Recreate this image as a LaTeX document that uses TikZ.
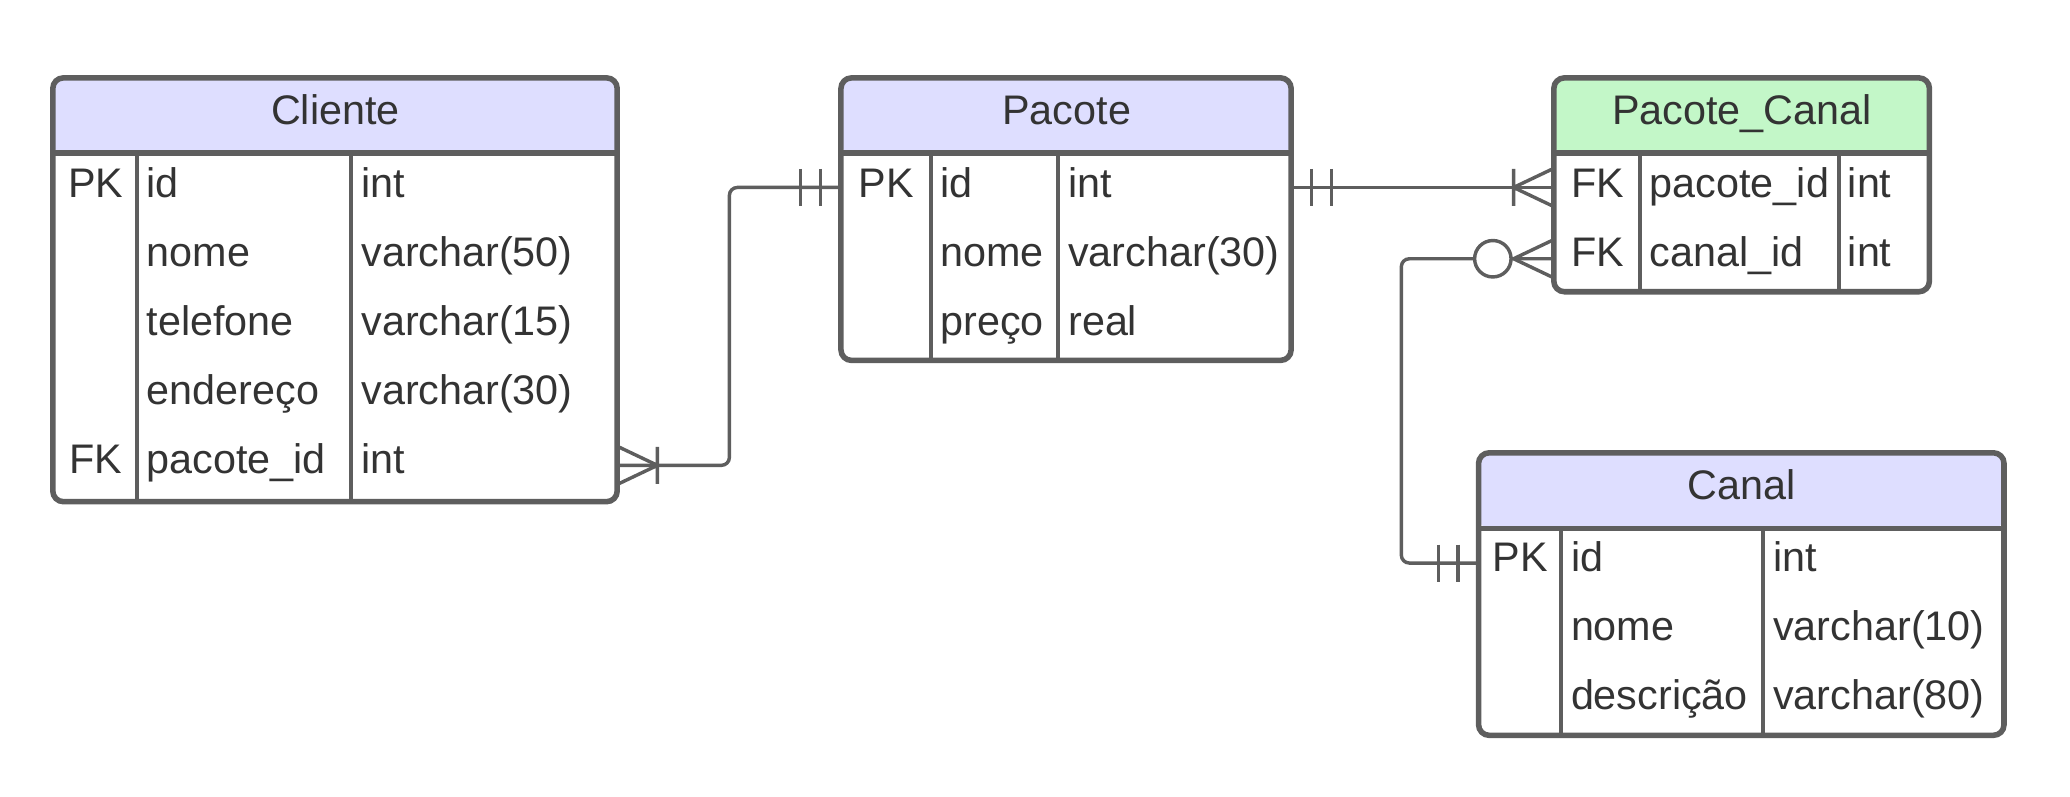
\documentclass[tikz,border=0pt]{standalone}
\usepackage{fontspec}
\setmainfont{Liberation Sans}
\definecolor{lc}{HTML}{5E5E5E}
\definecolor{tc}{HTML}{333333}
\definecolor{hblue}{HTML}{DEDEFF}
\definecolor{hgreen}{HTML}{C3F7C8}
\tikzset{
  pics/onemark/.style={code={\draw[ermark] (15.5,-14) -- (15.5,14) (30.5,-14) -- (30.5,14);}},
  pics/manymark/.style={code={\draw[ermark] (0,-14.5) -- (30.5,0) -- (0,14.5) (30.5,-14) -- (30.5,14);}},
  pics/zeromanymark/.style={code={\draw[ermark] (0,-14.5) -- (30.5,0) -- (0,14.5); \draw[ermark, fill=white] (46.2,0) circle[radius=13.8];}},
}
\begin{document}
\begin{tikzpicture}[x=1pt,y=-1pt,
  tbl/.style={draw=lc, line width=4.2pt, rounded corners=8pt, fill=white, anchor=north west, inner sep=0pt, outer sep=0pt},
  hdr/.style={path picture={\fill[#1] ([yshift=2pt]path picture bounding box.north west) rectangle ([yshift=-57pt]path picture bounding box.north east);}},
  sepline/.style={draw=lc, line width=4.2pt},
  colline/.style={draw=lc, line width=3pt},
  conn/.style={draw=lc, line width=2.6pt, rounded corners=6pt},
  ermark/.style={draw=lc, line width=2.6pt},
  ttl/.style={anchor=base, inner sep=0pt, text=tc, font=\fontsize{31.3}{36}\selectfont},
  keytxt/.style={ttl},
  fld/.style={anchor=base west, inner sep=0pt, text=tc, font=\fontsize{31.3}{36}\selectfont},
]
\useasboundingbox (0,0) rectangle (1568,603.7);

% ---------- Cliente ----------
\node[tbl, hdr=hblue, minimum width=427.5pt, minimum height=321pt] (cliente) at (40,59) {};
\draw[sepline] (40,116) -- (467.5,116);
\draw[colline] (103.8,116) -- (103.8,380);
\draw[colline] (266,116) -- (266,380);
\node[ttl] (clT) at (254,94.5) {Cliente};
\node[keytxt] (cl1k) at (72.4,149.3) {PK};
\node[fld] (cl1n) at (111,149.3) {id};
\node[fld] (cl1t) at (273.6,149.3) {int};
\node[fld] (cl2n) at (111,201.7) {nome};
\node[fld] (cl2t) at (273.6,201.7) {varchar(50)};
\node[fld] (cl3n) at (111,254.1) {telefone};
\node[fld] (cl3t) at (273.6,254.1) {varchar(15)};
\node[fld] (cl4n) at (111,306.5) {endereço};
\node[fld] (cl4t) at (273.6,306.5) {varchar(30)};
\node[keytxt] (cl5k) at (72.4,358.9) {FK};
\node[fld] (cl5n) at (111,358.9) {pacote\_id};
\node[fld] (cl5t) at (273.6,358.9) {int};

% ---------- Pacote ----------
\node[tbl, hdr=hblue, minimum width=341pt, minimum height=214pt] (pacote) at (637,59) {};
\draw[sepline] (637,116) -- (978,116);
\draw[colline] (705,116) -- (705,273);
\draw[colline] (801.6,116) -- (801.6,273);
\node[ttl] (paT) at (808,94.5) {Pacote};
\node[keytxt] (pa1k) at (671.5,149.3) {PK};
\node[fld] (pa1n) at (712.3,149.3) {id};
\node[fld] (pa1t) at (809,149.3) {int};
\node[fld] (pa2n) at (712.3,201.7) {nome};
\node[fld] (pa2t) at (809,201.7) {varchar(30)};
\node[fld] (pa3n) at (712.3,254.1) {preço};
\node[fld] (pa3t) at (809,254.1) {real};

% ---------- Pacote_Canal ----------
\node[tbl, hdr=hgreen, minimum width=284.5pt, minimum height=162pt] (pc) at (1177,59) {};
\draw[sepline] (1177,116) -- (1461.5,116);
\draw[colline] (1242.4,116) -- (1242.4,221);
\draw[colline] (1393.2,116) -- (1393.2,221);
\node[ttl] (pcT) at (1319.5,94.5) {Pacote\_Canal};
\node[keytxt] (pc1k) at (1210.2,149.3) {FK};
\node[fld] (pc1n) at (1249.5,149.3) {pacote\_id};
\node[fld] (pc1t) at (1399.5,149.3) {int};
\node[keytxt] (pc2k) at (1210.2,201.7) {FK};
\node[fld] (pc2n) at (1249.5,201.7) {canal\_id};
\node[fld] (pc2t) at (1399.5,201.7) {int};

% ---------- Canal ----------
\node[tbl, hdr=hblue, minimum width=398pt, minimum height=214pt] (canal) at (1120,343) {};
\draw[sepline] (1120,400.5) -- (1518,400.5);
\draw[colline] (1182.5,400.5) -- (1182.5,557);
\draw[colline] (1335.7,400.5) -- (1335.7,557);
\node[ttl] (caT) at (1319.5,378.5) {Canal};
\node[keytxt] (ca1k) at (1151.7,433) {PK};
\node[fld] (ca1n) at (1189.8,433) {id};
\node[fld] (ca1t) at (1343,433) {int};
\node[fld] (ca2n) at (1189.8,485.3) {nome};
\node[fld] (ca2t) at (1343,485.3) {varchar(10)};
\node[fld] (ca3n) at (1189.8,537.6) {descrição};
\node[fld] (ca3t) at (1343,537.6) {varchar(80)};

% ---------- connector end points ----------
\coordinate (cliP) at (467.5,352.5);
\coordinate (pacL) at (637,142);
\coordinate (pacR) at (978,142);
\coordinate (pcL1) at (1177,142);
\coordinate (pcL2) at (1177,196);
\coordinate (canL) at (1120,426.5);

% ---------- connectors ----------
\draw[conn] (cliP) -- ++(85,0) |- (pacL);
\draw[conn] (pacR) -- (pcL1);
\draw[conn] (canL) -- ++(-58.5,0) |- (pcL2);

% ---------- cardinality marks ----------
\pic at (cliP) {manymark};
\pic[xscale=-1] at (pacL) {onemark};
\pic at (pacR) {onemark};
\pic[xscale=-1] at (pcL1) {manymark};
\pic[xscale=-1] at (pcL2) {zeromanymark};
\pic[xscale=-1] at (canL) {onemark};
\end{tikzpicture}
\end{document}
